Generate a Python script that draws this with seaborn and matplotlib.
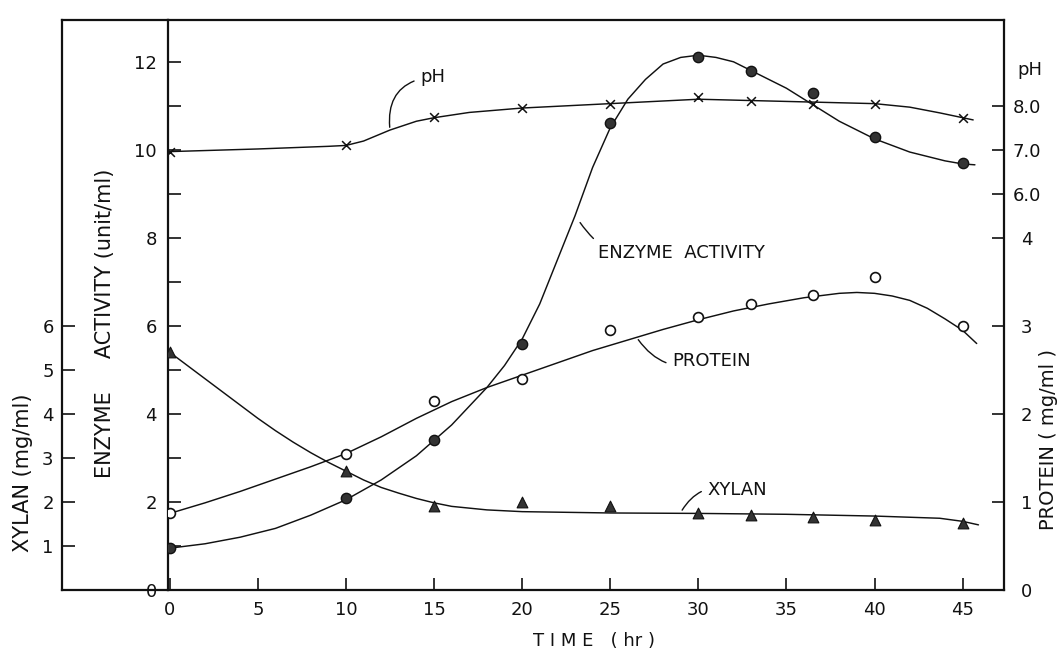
import matplotlib
matplotlib.use("Agg")
import matplotlib.pyplot as plt
import seaborn as sns
from matplotlib.ticker import MultipleLocator

sns.set_theme(style="white")
plt.rcParams["font.family"] = ["DejaVu Sans"]

# sampled times (hr)
time_hr = [0, 10, 15, 20, 25, 30, 33, 36.5, 40, 45]

# values
ph_values = [6.96, 7.1, 7.75, 7.95, 8.05, 8.2, 8.1, 8.05, 8.05, 7.73]
enzyme_values = [0.95, 2.1, 3.4, 5.6, 10.6, 12.1, 11.8, 11.3, 10.3, 9.7]
protein_values = [0.87, 1.55, 2.15, 2.4, 2.95, 3.1, 3.25, 3.35, 3.55, 3.0]
xylan_values = [5.4, 2.7, 1.9, 2.0, 1.9, 1.75, 1.7, 1.65, 1.58, 1.53]

# hand-drawn smooth curves
ph_curve_t = [0, 5, 9, 10, 11, 12.5, 14, 15, 17, 20, 25, 30, 35, 40, 42, 43.7, 45.6]
ph_curve = [6.96, 7.02, 7.08, 7.1, 7.2, 7.45, 7.65, 7.73, 7.85, 7.95, 8.05, 8.15, 8.1, 8.05, 7.97, 7.84, 7.68]
enzyme_curve_t = [0, 2, 4, 6, 8, 10, 12, 14, 16, 18, 19, 20, 21, 22, 23, 24, 25, 26, 27, 28,
                  29, 30, 31, 32, 33, 34, 35, 36, 37, 38, 39, 40, 41, 42, 43, 44, 45, 45.7]
enzyme_curve = [0.95, 1.05, 1.2, 1.4, 1.7, 2.05, 2.5, 3.05, 3.75, 4.6, 5.1, 5.7, 6.5, 7.5, 8.5, 9.6,
                10.5, 11.15, 11.6, 11.95, 12.1, 12.15, 12.1, 12.0, 11.8, 11.6, 11.4, 11.15, 10.9, 10.65,
                10.45, 10.25, 10.1, 9.95, 9.85, 9.75, 9.68, 9.66]
protein_curve_t = [0, 2, 4, 6, 8, 10, 12, 14, 16, 18, 20, 22, 24, 26, 28, 30, 32, 34, 36, 38,
                   39, 40, 41, 42, 43, 44, 45, 45.8]
protein_curve = [0.87, 0.99, 1.12, 1.26, 1.4, 1.55, 1.74, 1.95, 2.14, 2.3, 2.44, 2.58, 2.72, 2.84,
                 2.96, 3.07, 3.17, 3.25, 3.32, 3.37, 3.38, 3.37, 3.34, 3.29, 3.2, 3.08, 2.95, 2.8]
xylan_curve_t = [0, 1, 2, 3, 4, 5, 6, 7, 8, 9, 10, 11, 12, 13, 14, 15, 16, 18, 20, 25, 30, 35,
                 40, 43.7, 45, 45.9]
xylan_curve = [5.4, 5.1, 4.8, 4.5, 4.2, 3.9, 3.62, 3.36, 3.12, 2.9, 2.7, 2.5, 2.33, 2.2, 2.08,
               1.98, 1.9, 1.82, 1.78, 1.75, 1.74, 1.72, 1.68, 1.63, 1.56, 1.48]

x_ticks = [0, 5, 10, 15, 20, 25, 30, 35, 40, 45]
enzyme_ticks = [0, 2, 4, 6, 8, 10, 12]
xylan_ticks = [1, 2, 3, 4, 5, 6]
protein_ticks = [0, 1, 2, 3, 4]
ph_ticks = [6, 7, 8]
ph_tick_labels = ["6.0", "7.0", "8.0"]

W, H = 1061, 651
fig = plt.figure(figsize=(W / 100, H / 100), dpi=100)

def box(x0, y0, x1, y1):
    return [x0 / W, 1 - y1 / H, (x1 - x0) / W, (y1 - y0) / H]

ink = "#111111"
fs = 13

# outer frame holding the xylan scale
axx = fig.add_axes(box(62, 20, 168, 590))
axx.set_ylim(0, 12.95)
axx.set_xticks([])
axx.set_yticks(xylan_ticks)
axx.set_yticklabels([str(t) for t in xylan_ticks], fontsize=fs)
axx.tick_params(axis="y", direction="in", length=9, width=1.2, colors=ink, pad=6, left=True)
axx.spines["right"].set_visible(False)
for s in ["left", "top", "bottom"]:
    axx.spines[s].set_color(ink)
    axx.spines[s].set_linewidth(1.6)
axx.patch.set_alpha(0)

# main axes: enzyme activity
ax = fig.add_axes(box(168, 20, 1004, 590))
ax.set_xlim(-0.1, 47.35)
ax.set_ylim(0, 12.95)
for s in ax.spines.values():
    s.set_color(ink)
    s.set_linewidth(1.6)
ax.set_xticks(x_ticks)
ax.set_xticklabels([str(t) for t in x_ticks], fontsize=fs)
ax.set_yticks(enzyme_ticks)
ax.set_yticklabels([str(t) for t in enzyme_ticks], fontsize=fs)
ax.yaxis.set_minor_locator(MultipleLocator(1))
ax.tick_params(axis="both", which="both", direction="in", length=9, width=1.2, colors=ink, pad=8)
ax.tick_params(axis="y", which="both", left=True, right=False)
ax.tick_params(axis="x", bottom=True, top=False)

# right axes: protein and pH scales
ax2 = ax.twinx()
ax2.set_ylim(0, 12.95 / 2)
ax2.set_yticks(protein_ticks)
ax2.set_yticklabels([str(t) for t in protein_ticks], fontsize=fs)
ax2.tick_params(axis="y", direction="in", length=9, width=1.2, colors=ink, pad=12)

ax3 = ax.twinx()
ax3.set_ylim(-3, 9.95)
ax3.set_yticks(ph_ticks)
ax3.set_yticklabels(ph_tick_labels, fontsize=fs)
ax3.tick_params(axis="y", direction="in", length=9, width=1.2, colors=ink, pad=6)
for a in (ax2, ax3):
    for s in a.spines.values():
        s.set_visible(False)

line_kw = dict(color=ink, linewidth=1.05, sort=False, legend=False)

# curves
sns.lineplot(x=ph_curve_t, y=ph_curve, ax=ax3, **line_kw)
sns.lineplot(x=enzyme_curve_t, y=enzyme_curve, ax=ax, **line_kw)
sns.lineplot(x=protein_curve_t, y=protein_curve, ax=ax2, **line_kw)
sns.lineplot(x=xylan_curve_t, y=xylan_curve, ax=ax, **line_kw)

# markers
sns.scatterplot(x=time_hr, y=ph_values, ax=ax3, marker="x", s=40, color=ink, linewidth=1.1, zorder=5)
sns.scatterplot(x=time_hr, y=enzyme_values, ax=ax, marker="o", s=55, color="#333333",
                edgecolor=ink, linewidth=1.0, zorder=5)
sns.scatterplot(x=time_hr, y=protein_values, ax=ax2, marker="o", s=50, facecolor="white",
                edgecolor=ink, linewidth=1.2, zorder=5)
sns.scatterplot(x=time_hr, y=xylan_values, ax=ax, marker="^", s=60, color="#333333",
                edgecolor=ink, linewidth=0.8, zorder=5)
for a in (ax, ax2, ax3):
    a.set_ylabel("")
    a.set_xlabel("")

# axis titles
fig.text(594 / W, 1 - 641 / H, "T I M E   ( hr )", ha="center", va="center", fontsize=fs, color=ink)
fig.text(105 / W, 1 - 323 / H, "ENZYME     ACTIVITY (unit/ml)", rotation=90,
         ha="center", va="center", fontsize=15, color=ink)
fig.text(23 / W, 1 - 473 / H, "XYLAN (mg/ml)", rotation=90,
         ha="center", va="center", fontsize=15, color=ink)
fig.text(1048 / W, 1 - 440 / H, "PROTEIN ( mg/ml )", rotation=90,
         ha="center", va="center", fontsize=14, color=ink)
fig.text(1030 / W, 1 - 70 / H, "pH", ha="center", va="center", fontsize=fs, color=ink)

# curve labels with squiggle leaders
ax3.annotate("pH", xy=(12.5, 7.45), xytext=(14.2, 8.55), fontsize=fs, color=ink,
             arrowprops=dict(arrowstyle="-", color=ink, lw=1.0, connectionstyle="arc3,rad=0.5"))
ax.annotate("ENZYME  ACTIVITY", xy=(23.2, 8.4), xytext=(24.3, 7.55), fontsize=fs, color=ink,
            arrowprops=dict(arrowstyle="-", color=ink, lw=1.0, connectionstyle="arc3,rad=-0.4"))
ax2.annotate("PROTEIN", xy=(26.5, 2.87), xytext=(28.5, 2.55), fontsize=fs, color=ink,
             arrowprops=dict(arrowstyle="-", color=ink, lw=1.0, connectionstyle="arc3,rad=-0.4"))
ax.annotate("XYLAN", xy=(29.0, 1.76), xytext=(30.5, 2.15), fontsize=fs, color=ink,
            arrowprops=dict(arrowstyle="-", color=ink, lw=1.0, connectionstyle="arc3,rad=0.4"))

fig.savefig("out.png", dpi=100)
